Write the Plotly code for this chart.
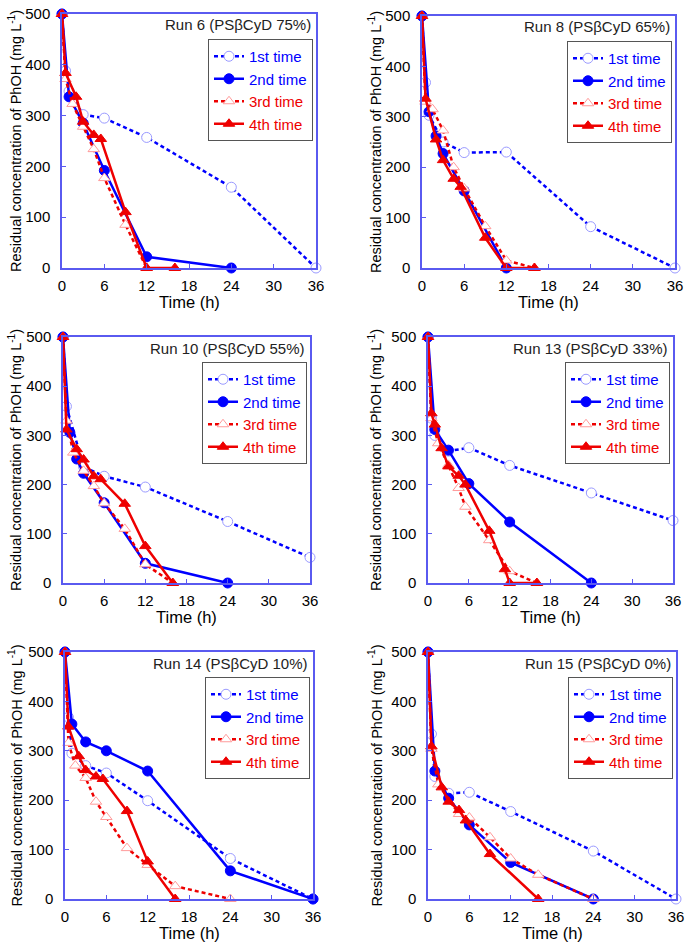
import plotly.graph_objects as go

W, H = 685, 944

# ---------------- data (time in h, residual PhOH in mg/L) ----------------
RUNS = ["Run 6 (PSβCyD 75%)", "Run 8 (PSβCyD 65%)", "Run 10 (PSβCyD 55%)",
        "Run 13 (PSβCyD 33%)", "Run 14 (PSβCyD 10%)", "Run 15 (PSβCyD 0%)"]
SERIES = ["1st time", "2nd time", "3rd time", "4th time"]
X_TICKS = [0, 6, 12, 18, 24, 30, 36]
Y_TICKS = [0, 100, 200, 300, 400, 500]

# Run 6
r6_t1 = [0, 0.5, 1, 3, 6, 12, 24, 36]
r6_c1 = [500, 388, 348, 302, 295, 257, 159, 0]
r6_t2 = [0, 1, 3, 6, 12, 24]
r6_c2 = [500, 337, 285, 192, 22, 0]
r6_t3 = [0, 0.5, 1.5, 3, 4.5, 6, 9, 12]
r6_c3 = [500, 372, 323, 278, 234, 177, 85, 0]
r6_t4 = [0, 0.5, 2, 3, 4.5, 5.5, 9, 12, 16]
r6_c4 = [500, 384, 337, 288, 262, 254, 110, 0, 0]

# Run 8
r8_t1 = [0, 0.5, 1, 3, 6, 12, 24, 36]
r8_c1 = [500, 368, 303, 250, 229, 230, 82, 0]
r8_t2 = [0, 1, 2, 3, 6, 12]
r8_c2 = [500, 310, 262, 227, 153, 0]
r8_t3 = [0, 0.5, 1.5, 3, 4.5, 6, 9, 12, 16]
r8_c3 = [500, 330, 315, 273, 200, 158, 83, 15, 0]
r8_t4 = [0, 0.5, 2, 3, 4.5, 5.5, 9, 12, 16]
r8_c4 = [500, 336, 255, 214, 177, 161, 60, 0, 0]

# Run 10
r10_t1 = [0, 0.5, 3, 6, 12, 24, 36]
r10_c1 = [500, 359, 236, 217, 195, 125, 52]
r10_t2 = [0, 1, 2, 3, 6, 12, 24]
r10_c2 = [500, 306, 252, 223, 163, 40, 0]
r10_t3 = [0, 0.5, 1.5, 3, 4.5, 6, 9, 12, 16]
r10_c3 = [500, 330, 265, 228, 197, 162, 110, 38, 0]
r10_t4 = [0, 0.5, 2, 3, 4.5, 5.5, 9, 12, 16]
r10_c4 = [500, 312, 272, 251, 217, 211, 161, 75, 0]

# Run 13
r13_t1 = [0, 0.5, 1, 3, 6, 12, 24, 36]
r13_c1 = [500, 335, 300, 268, 275, 239, 183, 127]
r13_t2 = [0, 1, 3, 6, 12, 24]
r13_c2 = [500, 312, 270, 202, 124, 0]
r13_t3 = [0, 0.5, 1.5, 3, 4.5, 5.5, 9, 12, 16]
r13_c3 = [500, 335, 284, 240, 193, 155, 87, 24, 0]
r13_t4 = [0, 0.5, 1, 2, 3, 4.5, 5.5, 9, 11.3, 12, 16]
r13_c4 = [500, 345, 322, 274, 237, 218, 200, 106, 28, 0, 0]

# Run 14
r14_t1 = [0, 0.5, 1, 3, 6, 12, 24, 36]
r14_c1 = [500, 368, 295, 270, 255, 199, 82, 0]
r14_t2 = [0, 1, 3, 6, 12, 24, 36]
r14_c2 = [500, 354, 318, 300, 259, 57, 0]
r14_t3 = [0, 0.5, 1.5, 3, 4.5, 6, 9, 12, 16, 24]
r14_c3 = [500, 316, 270, 245, 197, 166, 103, 69, 26, 0]
r14_t4 = [0, 0.5, 2, 3, 4.5, 5.5, 9, 12, 16]
r14_c4 = [500, 349, 289, 261, 248, 243, 178, 76, 0]

# Run 15
r15_t1 = [0, 0.5, 1, 3, 6, 12, 24, 36]
r15_c1 = [500, 334, 248, 214, 216, 177, 97, 0]
r15_t2 = [0, 1, 3, 6, 12, 24]
r15_c2 = [500, 259, 204, 150, 74, 0]
r15_t3 = [0, 0.5, 1.5, 4.5, 6, 9, 12, 16, 24]
r15_c3 = [500, 304, 232, 172, 165, 125, 82, 49, 0]
r15_t4 = [0, 0.5, 2, 3, 4.5, 5.5, 9, 16]
r15_c4 = [500, 309, 226, 197, 180, 159, 91, 0]

DATA = [
    [(r6_t1, r6_c1), (r6_t2, r6_c2), (r6_t3, r6_c3), (r6_t4, r6_c4)],
    [(r8_t1, r8_c1), (r8_t2, r8_c2), (r8_t3, r8_c3), (r8_t4, r8_c4)],
    [(r10_t1, r10_c1), (r10_t2, r10_c2), (r10_t3, r10_c3), (r10_t4, r10_c4)],
    [(r13_t1, r13_c1), (r13_t2, r13_c2), (r13_t3, r13_c3), (r13_t4, r13_c4)],
    [(r14_t1, r14_c1), (r14_t2, r14_c2), (r14_t3, r14_c3), (r14_t4, r14_c4)],
    [(r15_t1, r15_c1), (r15_t2, r15_c2), (r15_t3, r15_c3), (r15_t4, r15_c4)],
]

# ---------------- layout (pixel boxes of each plot area) ----------------
BOXES = [  # left, right, top, bottom (px)
    (62, 316, 14, 268), (422, 675, 16, 268),
    (63, 310, 337, 583), (428, 673, 337, 583),
    (65, 313, 652, 899), (428, 676, 652, 899),
]
YTITLE_X = [15, 375]

BLUE = "#0000ff"
RED = "#ee0000"
FRAME = "#5a5af0"
FONT = "Liberation Sans, Arial, Helvetica, sans-serif"

STYLES = [
    dict(color=BLUE, dash="4px,3px", symbol="circle", fill="white", mline="#9a9aff"),
    dict(color=BLUE, dash="solid", symbol="circle", fill=BLUE, mline=BLUE),
    dict(color=RED, dash="4px,3px", symbol="triangle-up", fill="white", mline="#ff9a9a"),
    dict(color=RED, dash="solid", symbol="triangle-up", fill=RED, mline=RED),
]

fig = go.Figure()
layout = dict(width=W, height=H, margin=dict(l=0, r=0, t=0, b=0, autoexpand=False),
              paper_bgcolor="white", plot_bgcolor="white",
              font=dict(family=FONT, color="black"), showlegend=True,
              annotations=[])

for i, (run, series) in enumerate(zip(RUNS, DATA)):
    l, r, t, b = BOXES[i]
    sfx = "" if i == 0 else str(i + 1)
    leg = "legend" + sfx
    for k, (tt, cc) in enumerate(series):
        st = STYLES[k]
        fig.add_trace(go.Scatter(
            x=tt, y=cc, mode="lines+markers",
            name='<span style="color:%s">%s</span>' % (st["color"], SERIES[k]),
            line=dict(color=st["color"], width=2.5, dash=st["dash"]),
            marker=dict(symbol=st["symbol"], size=10, color=st["fill"],
                        line=dict(color=st["mline"], width=1)),
            xaxis="x" + sfx, yaxis="y" + sfx, legend=leg, cliponaxis=False,
        ))
    common = dict(showgrid=False, zeroline=False, showline=True, mirror=True,
                  linecolor=FRAME, linewidth=1.5, ticks="inside", ticklen=4,
                  tickcolor=FRAME, automargin=False, ticklabeloverflow="allow",
                  tickfont=dict(size=15, family=FONT, color="black"))
    layout["xaxis" + sfx] = dict(
        domain=[l / W, r / W], anchor="y" + sfx, range=[0, 36],
        tickvals=X_TICKS, ticklabelstandoff=3, **common)
    layout["yaxis" + sfx] = dict(
        domain=[1 - b / H, 1 - t / H], anchor="x" + sfx, range=[0, 500],
        tickvals=Y_TICKS, ticklabelstandoff=7, **common)
    layout[leg] = dict(
        x=(r - 3) / W, y=1 - (t + 25) / H, xanchor="right", yanchor="top",
        bgcolor="white", bordercolor="#555555", borderwidth=1,
        font=dict(size=15, family=FONT), itemwidth=30, tracegroupgap=0)
    layout["annotations"].append(dict(
        text=run, x=(r - 3) / W, y=1 - (t + 11) / H, xref="paper", yref="paper",
        xanchor="right", yanchor="middle", showarrow=False,
        font=dict(size=15, family=FONT, color="#222222")))
    layout["annotations"].append(dict(
        text="Time (h)", x=(l + r) / 2 / W, y=1 - (b + 34) / H, xref="paper",
        yref="paper", xanchor="center", yanchor="middle", showarrow=False,
        font=dict(size=16.5, family=FONT, color="black")))
    layout["annotations"].append(dict(
        text="Residual concentration of PhOH (mg L<sup>-1</sup>)",
        x=YTITLE_X[i % 2] / W, y=1 - (t + b) / 2 / H, xref="paper", yref="paper",
        xanchor="center", yanchor="middle", textangle=-90, showarrow=False,
        font=dict(size=14.5, family=FONT, color="black")))

fig.update_layout(**layout)
fig.write_html("out.html", config={"displayModeBar": False},
               post_script="document.body.style.margin='0';"
                           "document.body.style.overflow='hidden';")
